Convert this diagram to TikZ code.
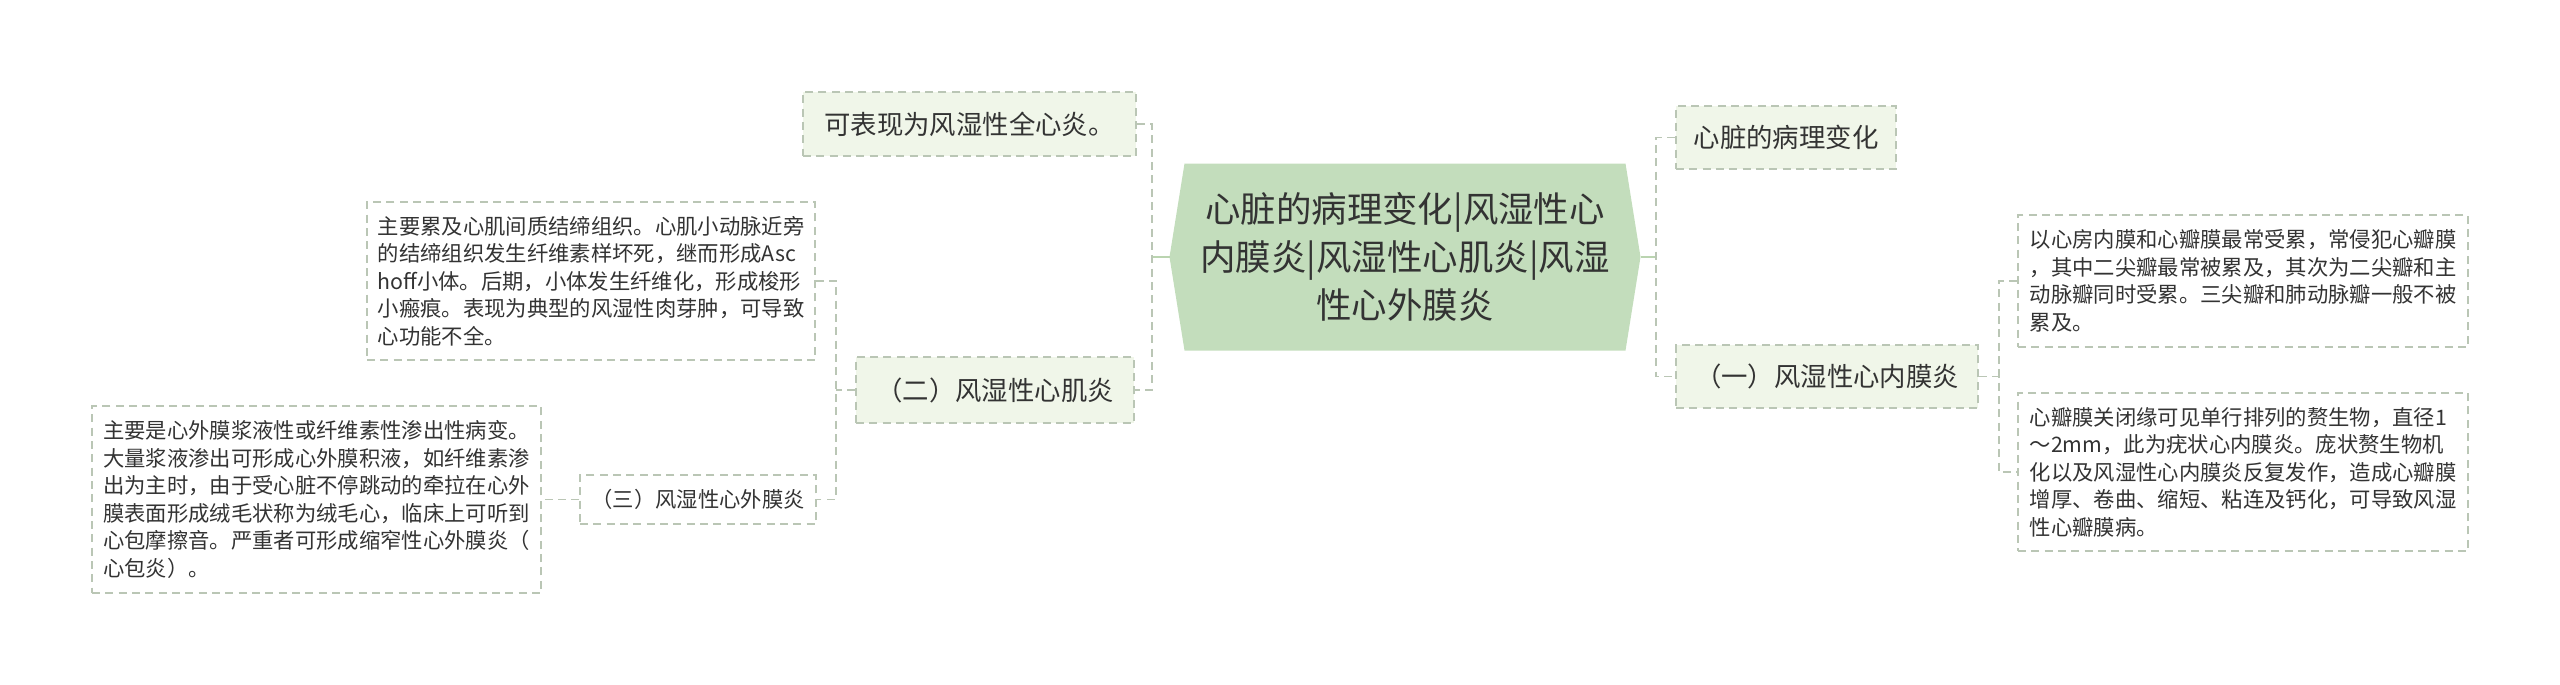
\documentclass[tikz,border=0pt]{standalone}
\usepackage{fontspec}
\newfontfamily\cjk{Noto Sans CJK SC}
\usetikzlibrary{backgrounds}

\definecolor{inkgray}{RGB}{51,51,51}
\definecolor{rootgreen}{RGB}{195,221,188}
\definecolor{stemgreen}{RGB}{186,212,176}
\definecolor{subfill}{RGB}{240,246,233}
\definecolor{dashgray}{RGB}{186,198,181}

\tikzset{every picture/.style={line width=0.75pt}}
\tikzset{
  rootbox/.style={minimum width=352.5pt, minimum height=139.5pt, inner sep=0pt, align=center,
    text=inkgray, font=\cjk\fontsize{26.6}{36}\selectfont},
  subbox/.style={draw=dashgray, fill=subfill, dash pattern=on 6pt off 4pt, line width=1.1pt,
    inner sep=0pt, align=center, text=inkgray, font=\cjk\fontsize{19.8}{24}\selectfont},
  leafbox/.style={draw=dashgray, fill=white, dash pattern=on 6pt off 4pt, line width=1.1pt,
    inner sep=0pt, align=left, text=inkgray, font=\cjk\fontsize{16}{20.6}\selectfont},
  stemline/.style={draw=stemgreen, line width=2pt},
  twigline/.style={draw=dashgray, dash pattern=on 6pt off 4pt, line width=1.1pt}
}

\begin{document}
\begin{tikzpicture}[x=0.75pt,y=0.75pt,yscale=-1,xscale=1]
	\useasboundingbox (0,0) rectangle (2560,685); %set diagram size 2560 x 685

	% Root Node
	\draw (1405,257) node (root) [rootbox] {心脏的病理变化|风湿性心\\内膜炎|风湿性心肌炎|风湿\\性心外膜炎};
	\begin{scope}[on background layer]
	\fill [rootgreen] (root.west) -- ([xshift=11.25pt]root.north west) -- ([xshift=-11.25pt]root.north east) -- (root.east) -- ([xshift=-11.25pt]root.south east) -- ([xshift=11.25pt]root.south west) -- cycle ;
	\end{scope}

	% Text Node
	\draw (969.5,124) node (l1) [subbox, minimum width=249.75pt, minimum height=48pt] {可表现为风湿性全心炎。};
	% Text Node
	\draw (995,390) node (l2) [subbox, minimum width=208.5pt, minimum height=49.5pt] {（二）风湿性心肌炎};
	% Text Node
	\draw (1786,137.5) node (r1) [subbox, minimum width=165pt, minimum height=47.25pt] {心脏的病理变化};
	% Text Node
	\draw (1827,376.5) node (r2) [subbox, minimum width=226.5pt, minimum height=47.25pt] {（一）风湿性心内膜炎};
	% Text Node
	\draw (2243,281) node (r2a) [leafbox, minimum width=337.5pt, minimum height=99pt] {以心房内膜和心瓣膜最常受累，常侵犯心瓣膜\\，其中二尖瓣最常被累及，其次为二尖瓣和主\\动脉瓣同时受累。三尖瓣和肺动脉瓣一般不被\\累及。};
	% Text Node
	\draw (2243,472) node (r2b) [leafbox, minimum width=337.5pt, minimum height=118.5pt] {心瓣膜关闭缘可见单行排列的赘生物，直径1\\～2mm，此为疣状心内膜炎。庞状赘生物机\\化以及风湿性心内膜炎反复发作，造成心瓣膜\\增厚、卷曲、缩短、粘连及钙化，可导致风湿\\性心瓣膜病。};
	% Text Node
	\draw (591,281) node (l2a) [leafbox, minimum width=336pt, minimum height=118.5pt] {主要累及心肌间质结缔组织。心肌小动脉近旁\\的结缔组织发生纤维素样坏死，继而形成Asc\\hoff小体。后期，小体发生纤维化，形成梭形\\小瘢痕。表现为典型的风湿性肉芽肿，可导致\\心功能不全。};
	% Text Node
	\draw (698,499.5) node (l2b) [leafbox, align=center, minimum width=177pt, minimum height=36.75pt] {（三）风湿性心外膜炎};
	% Text Node
	\draw (316.5,499.5) node (l3) [leafbox, minimum width=336.75pt, minimum height=140.25pt] {主要是心外膜浆液性或纤维素性渗出性病变。\\大量浆液渗出可形成心外膜积液，如纤维素渗\\出为主时，由于受心脏不停跳动的牵拉在心外\\膜表面形成绒毛状称为绒毛心，临床上可听到\\心包摩擦音。严重者可形成缩窄性心外膜炎（\\心包炎）。};

	% Branch points
	\coordinate (lbar) at (1152,257);
	\coordinate (rbar) at (1656,257);
	\coordinate (r2bar) at (1999,376.5);
	\coordinate (l2bar) at (836,390);

	%Straight Lines
	\draw [stemline] (root.west) -- (lbar) ;
	\draw [stemline] (root.east) -- (rbar) ;
	%Straight Lines
	\draw [twigline] (l1.east) -| (lbar) |- (l2.east) ;
	\draw [twigline] (r1.west) -| (rbar) |- (r2.west) ;
	%Straight Lines
	\draw [twigline] (r2.east) -- (r2bar) ;
	\draw [twigline] (r2a.west) -| (r2bar) |- (r2b.west) ;
	%Straight Lines
	\draw [twigline] (l2.west) -- (l2bar) ;
	\draw [twigline] (l2a.east) -| (l2bar) |- (l2b.east) ;
	\draw [twigline] (l2b.west) -- (l3.east) ;

\end{tikzpicture}
\end{document}
